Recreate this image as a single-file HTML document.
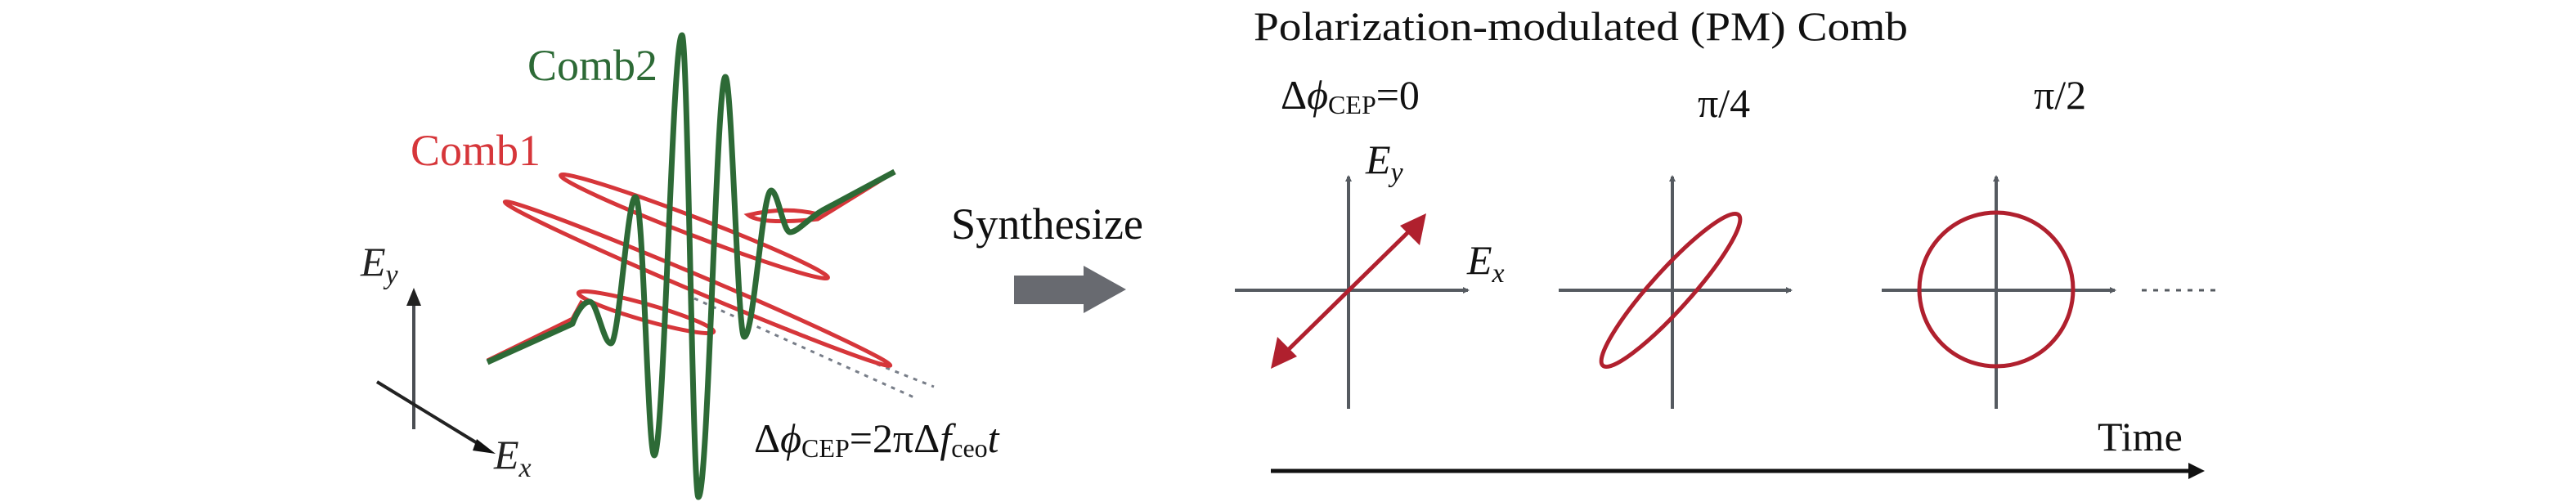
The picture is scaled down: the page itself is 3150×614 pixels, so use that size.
<!DOCTYPE html>
<html><head><meta charset="utf-8"><style>
html,body{margin:0;padding:0;background:#fff;}
svg{display:block;}
text{font-family:"Liberation Serif",serif;}
</style></head><body>
<svg width="3150" height="614" viewBox="0 0 3150 614" xmlns="http://www.w3.org/2000/svg">
<defs>
<marker id="ag" markerWidth="8" markerHeight="8" refX="6" refY="4" orient="auto" markerUnits="userSpaceOnUse" viewBox="0 0 8 8"><path d="M0,0 L8,4 L0,8 z" fill="#555a60"/></marker>
</defs>
<!-- Left: axes -->
<line x1="506" y1="525" x2="506" y2="372" stroke="#4a4d52" stroke-width="4"/>
<path d="M497,374 L506,352 L515,374 z" fill="#222"/>
<line x1="461" y1="467" x2="590" y2="546" stroke="#222" stroke-width="4"/>
<path d="M583,537 L606,555 L578,551 z" fill="#111"/>
<text x="441" y="337" font-size="50" font-style="italic" fill="#222">E<tspan font-size="34" dy="10">y</tspan></text>
<text x="604" y="573" font-size="50" font-style="italic" fill="#222">E<tspan font-size="34" dy="10">x</tspan></text>
<!-- dotted -->
<line x1="849" y1="357" x2="1142" y2="473" stroke="#777d88" stroke-width="3" stroke-dasharray="5,7"/>
<line x1="849" y1="365" x2="1122" y2="488" stroke="#777d88" stroke-width="3" stroke-dasharray="5,7"/>
<!-- red comb1 -->
<g fill="none" stroke="#d6363a" stroke-width="5">
<ellipse cx="853" cy="347" rx="256" ry="10" transform="rotate(23 853 347)"/>
<ellipse cx="849" cy="277" rx="175" ry="11" transform="rotate(21 849 277)"/>
<ellipse cx="790" cy="382" rx="86" ry="10" transform="rotate(16 790 382)"/>
<path d="M596,441 L700,390 L712,368"/>
<path d="M1000,262 Q960,252 915,263 Q930,275 1000,268 L1094,210"/>
</g>
<!-- green comb2 -->
<path fill="none" stroke="#2d6a36" stroke-width="7" stroke-linejoin="round" d="M596,443 L700,396 C706,380 714,369 721,369 C730,369 738,420 747,420 C757,420 767,241 777,241 C787,241 792,557 800,557 C812,557 822,43 834,43 C841,43 847,608 854,608 C866,608 876,94 887,94 C895,94 902,412 910,412 C922,412 932,233 943,233 C951,233 958,284 966,284 C976,284 990,265 1010,255 L1094,210"/>
<text x="645" y="98" font-size="54" fill="#2d6a36">Comb2</text>
<text x="502" y="202" font-size="54" fill="#d6363a">Comb1</text>
<text x="922" y="553" font-size="50" fill="#111">Δ<tspan font-style="italic">ϕ</tspan><tspan font-size="32" dy="6">CEP</tspan><tspan dy="-6">=2πΔ</tspan><tspan font-style="italic">f</tspan><tspan font-size="32" dy="6">ceo</tspan><tspan font-style="italic" dy="-6">t</tspan></text>
<!-- Synthesize -->
<text x="1163" y="292" font-size="54" fill="#111" textLength="235" lengthAdjust="spacingAndGlyphs">Synthesize</text>
<path d="M1240,337 L1325,337 L1325,325 L1377,354 L1325,383 L1325,372 L1240,372 z" fill="#686a70"/>
<!-- Right -->
<text x="1533" y="49" font-size="50" fill="#111" textLength="800" lengthAdjust="spacingAndGlyphs">Polarization-modulated (PM) Comb</text>
<text x="1566" y="133" font-size="50" fill="#111">Δ<tspan font-style="italic">ϕ</tspan><tspan font-size="32" dy="6">CEP</tspan><tspan dy="-6">=0</tspan></text>
<text x="2076" y="143" font-size="50" fill="#111">π/4</text>
<text x="2487" y="133" font-size="50" fill="#111">π/2</text>
<g stroke="#555a60" stroke-width="4" marker-end="url(#ag)">
<line x1="1649" y1="500" x2="1649" y2="216"/>
<line x1="1510" y1="355" x2="1795" y2="355"/>
<line x1="2045" y1="500" x2="2045" y2="216"/>
<line x1="1906" y1="355" x2="2190" y2="355"/>
<line x1="2441" y1="500" x2="2441" y2="216"/>
<line x1="2301" y1="355" x2="2586" y2="355"/>
</g>
<line x1="2619" y1="355" x2="2710" y2="355" stroke="#555a60" stroke-width="3" stroke-dasharray="6,8"/>
<text x="1670" y="212" font-size="50" font-style="italic" fill="#111">E<tspan font-size="34" dy="10">y</tspan></text>
<text x="1794" y="335" font-size="50" font-style="italic" fill="#111">E<tspan font-size="34" dy="10">x</tspan></text>
<!-- red double arrow -->
<line x1="1570" y1="433" x2="1728" y2="278" stroke="#b0202e" stroke-width="5"/>
<path d="M1744,261 L1736,300 L1712,276 z" fill="#b0202e"/>
<path d="M1554,451 L1562,412 L1586,436 z" fill="#b0202e"/>
<ellipse cx="2043" cy="355" rx="124" ry="24" transform="rotate(-48 2043 355)" fill="none" stroke="#b0202e" stroke-width="5"/>
<circle cx="2441" cy="354" r="94" fill="none" stroke="#b0202e" stroke-width="5"/>
<!-- Time -->
<text x="2565" y="551" font-size="50" fill="#111">Time</text>
<line x1="1554" y1="576" x2="2680" y2="576" stroke="#111" stroke-width="5"/>
<path d="M2676,566 L2696,576 L2676,586 z" fill="#111"/>
</svg>
</body></html>
